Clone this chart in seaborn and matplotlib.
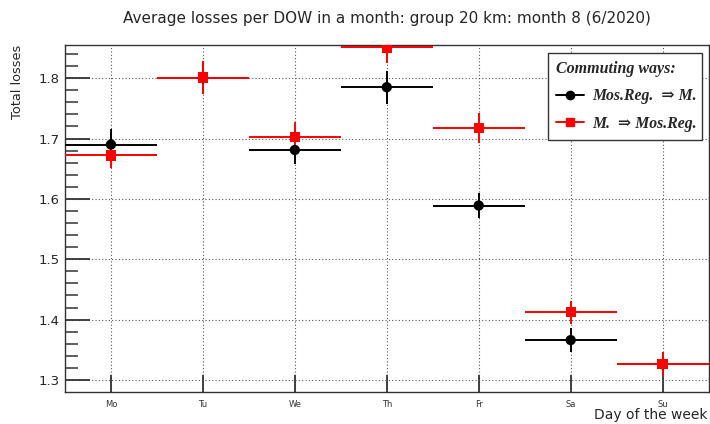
import matplotlib
matplotlib.use("Agg")
import matplotlib.pyplot as plt
from matplotlib.lines import Line2D
from matplotlib.ticker import MultipleLocator
import seaborn as sns
import pandas as pd
import numpy as np

days = ["Mo", "Tu", "We", "Th", "Fr", "Sa", "Su"]
series_names = ["Mos.Reg.  \u21d2 M.", "M.  \u21d2 Mos.Reg."]
black_vals = [1.690, 1.800, 1.681, 1.785, 1.589, 1.366, 1.326]
black_err = [0.026, 0.025, 0.023, 0.027, 0.021, 0.020, 0.020]
red_vals = [1.672, 1.801, 1.703, 1.851, 1.717, 1.412, 1.326]
red_err = [0.021, 0.027, 0.025, 0.026, 0.025, 0.019, 0.020]
bin_halfwidth = 0.5

sns.set_theme(style="white")
plt.rcParams['font.family'] = ['DejaVu Sans']

x = np.arange(1, len(days) + 1)
df = pd.DataFrame({
    "day": np.concatenate([x, x]),
    "value": black_vals + red_vals,
    "err": black_err + red_err,
    "series": ["black"] * len(days) + ["red"] * len(days),
})

fig = plt.figure(figsize=(7.10, 4.24), dpi=100)
ax = fig.add_axes([0.0915, 0.0762, 0.9065, 0.8177])

colors = {"black": "black", "red": "red"}
markers = {"black": "o", "red": "s"}
for s in ["black", "red"]:
    sub = df[df.series == s]
    ax.errorbar(sub["day"], sub["value"], yerr=sub["err"], xerr=bin_halfwidth,
                fmt="none", ecolor=colors[s], elinewidth=1.4, capsize=0, zorder=3)
sns.scatterplot(data=df, x="day", y="value", hue="series", style="series",
                palette=colors, markers=markers, s=55, edgecolor="none",
                legend=False, ax=ax, zorder=4)

ax.set_xlim(0.5, 7.5)
ax.set_ylim(1.2805, 1.855)
ax.set_xticks(x)
ax.set_xticklabels(days, fontsize=6, color="#333333")
ax.yaxis.set_minor_locator(MultipleLocator(0.02))
ax.set_yticks([1.3, 1.4, 1.5, 1.6, 1.7, 1.8])
ax.set_yticklabels(["1.3", "1.4", "1.5", "1.6", "1.7", "1.8"], fontsize=9.5)
ax.tick_params(axis="y", which="major", direction="in", length=18, width=1.3,
               color="#333333", left=True, right=False, pad=4)
ax.tick_params(axis="y", which="minor", direction="in", length=9, width=1.1,
               color="#333333", left=True, right=False)
ax.tick_params(axis="x", which="major", direction="in", length=12, width=1.3,
               color="#333333", bottom=True, top=False, pad=6)
ax.grid(True, which="major", linestyle=(0, (1, 2)), color="#555555", linewidth=0.8)
ax.set_axisbelow(True)
for sp in ax.spines.values():
    sp.set_color("#333333")
    sp.set_linewidth(1.0)

ax.set_xlabel("Day of the week", fontsize=10)
ax.xaxis.set_label_coords(0.999, -0.067)
ax.xaxis.label.set_ha("right")
ax.xaxis.label.set_va("center")
ax.set_ylabel("Total losses", fontsize=9.3)
ax.yaxis.set_label_coords(-0.074, 1.0)
ax.yaxis.label.set_ha("right")
ax.yaxis.label.set_va("center")
fig.suptitle("Average losses per DOW in a month: group 20 km: month 8 (6/2020)",
             fontsize=11, x=0.545, y=0.975, va="top")

handles = [
    Line2D([], [], color="black", marker="o", markersize=6, linewidth=1.4),
    Line2D([], [], color="red", marker="s", markersize=6, linewidth=1.4),
]
fam = ["Liberation Serif", "DejaVu Serif"]
leg = ax.legend(handles, series_names,
                loc="upper left", bbox_to_anchor=(0.751, 0.728, 0.238, 0.248),
                mode="expand", frameon=True, fancybox=False, framealpha=1,
                edgecolor="#333333", handlelength=1.8, handletextpad=0.5,
                labelspacing=0.72, borderpad=0.5, borderaxespad=0,
                prop={"family": fam, "weight": "bold", "style": "italic", "size": 11.3})
leg.get_frame().set_linewidth(1.0)
leg.set_title("Commuting ways:", prop={"family": fam, "weight": "bold",
                                       "style": "italic", "size": 11.5})
leg._legend_box.align = "left"

fig.savefig("out.png", dpi=100)
